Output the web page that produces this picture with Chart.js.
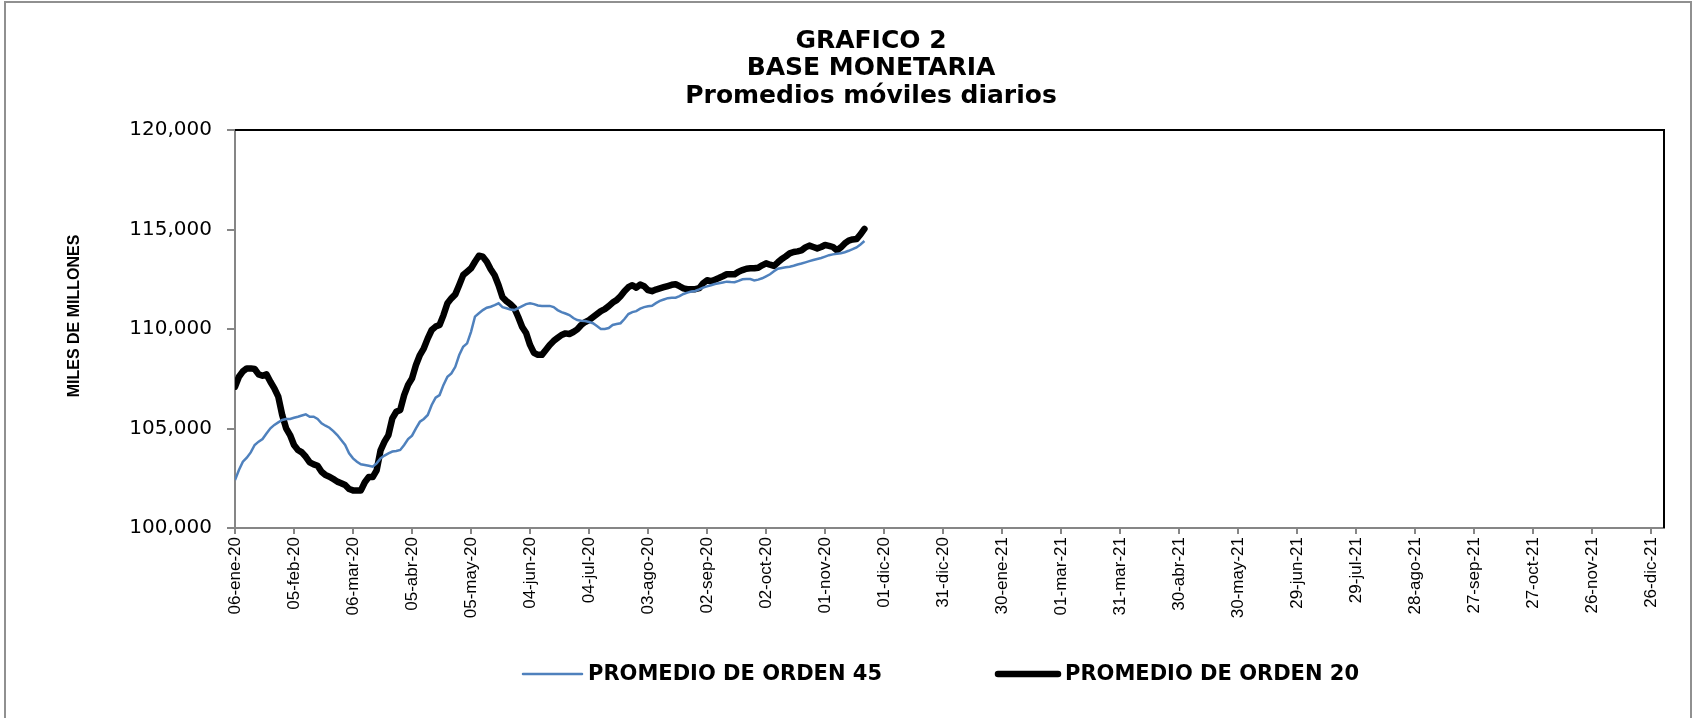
<!DOCTYPE html>
<html>
<head>
<meta charset="utf-8">
<title>Base monetaria</title>
<script src="https://cdn.jsdelivr.net/npm/chart.js@4.4.0/dist/chart.umd.min.js"></script>
<style>
  html, body { margin: 0; padding: 0; background: #fff; }
</style>
</head>
<body>
<canvas id="grafico" width="1699" height="718"></canvas>
<script>
// dias contados desde el 06-ene-20
const dias = [0, 2, 4, 6, 8, 10, 12, 14, 16, 18, 20, 22, 24, 26, 28, 30, 32, 34, 36, 38,
  40, 42, 44, 46, 48, 50, 52, 54, 56, 58, 60, 62, 64, 66, 68, 70, 72, 74, 76, 78,
  80, 82, 84, 86, 88, 90, 92, 94, 96, 98, 100, 102, 104, 106, 108, 110, 112, 114, 116, 118,
  120, 122, 124, 126, 128, 130, 132, 134, 136, 138, 140, 142, 144, 146, 148, 150, 152, 154, 156, 158,
  160, 162, 164, 166, 168, 170, 172, 174, 176, 178, 180, 182, 184, 186, 188, 190, 192, 194, 196, 198,
  200, 202, 204, 206, 208, 210, 212, 214, 216, 218, 220, 222, 224, 226, 228, 230, 232, 234, 236, 238,
  240, 242, 244, 246, 248, 250, 252, 254, 256, 258, 260, 262, 264, 266, 268, 270, 272, 274, 276, 278,
  280, 282, 284, 286, 288, 290, 292, 294, 296, 298, 300, 302, 304, 306, 308, 310, 312, 314, 316, 318, 320];

const orden45 = [102410, 102910, 103330, 103530, 103800, 104170, 104340, 104470, 104750, 105010,
  105180, 105310, 105430, 105480, 105480, 105540, 105590, 105650, 105710, 105590,
  105590, 105480, 105260, 105140, 105040, 104870, 104670, 104420, 104170, 103750,
  103500, 103330, 103200, 103170, 103130, 103080, 103250, 103500, 103640, 103750,
  103840, 103870, 103920, 104170, 104470, 104640, 105010, 105340, 105480, 105680,
  106180, 106550, 106680, 107190, 107600, 107770, 108100, 108690, 109110, 109280,
  109860, 110620, 110790, 110950, 111070, 111120, 111200, 111290, 111100, 111040,
  110980, 110950, 111050, 111150, 111250, 111290, 111250, 111180, 111160, 111160,
  111160, 111100, 110950, 110850, 110780, 110700, 110550, 110450, 110420, 110400,
  110350, 110290, 110150, 110000, 110000, 110050, 110200, 110250, 110290, 110500,
  110750, 110850, 110900, 111020, 111100, 111140, 111170, 111300, 111410, 111480,
  111550, 111570, 111570, 111650, 111760, 111830, 111880, 111910, 111990, 112080,
  112140, 112200, 112260, 112300, 112340, 112380, 112360, 112350, 112420, 112500,
  112510, 112510, 112440, 112480, 112550, 112650, 112750, 112900, 113030, 113070,
  113100, 113130, 113180, 113240, 113290, 113350, 113410, 113470, 113520, 113570,
  113640, 113710, 113750, 113780, 113810, 113860, 113930, 114010, 114100, 114250, 114420];

const orden20 = [107100, 107600, 107870, 108020, 108020, 107990, 107720, 107650, 107720, 107350,
  107020, 106600, 105680, 105010, 104670, 104170, 103920, 103800, 103580, 103300,
  103200, 103130, 102830, 102660, 102580, 102460, 102330, 102250, 102160, 101960,
  101890, 101890, 101890, 102300, 102560, 102560, 102900, 103900, 104340, 104670,
  105510, 105840, 105930, 106680, 107190, 107520, 108190, 108690, 109030, 109530,
  109950, 110120, 110200, 110700, 111290, 111540, 111740, 112210, 112710, 112880,
  113050, 113380, 113680, 113630, 113380, 113000, 112700, 112200, 111600, 111400,
  111250, 111050, 110600, 110100, 109800, 109200, 108800, 108700, 108700, 108950,
  109200, 109400, 109550, 109700, 109780, 109750, 109850, 109980, 110200, 110350,
  110450, 110600, 110750, 110900, 111000, 111150, 111330, 111450, 111650, 111900,
  112100, 112200, 112080, 112230, 112150, 111950, 111900, 111980, 112040, 112100,
  112160, 112220, 112250, 112150, 112040, 112000, 112000, 112000, 112050, 112300,
  112450, 112400, 112480, 112560, 112650, 112750, 112750, 112750, 112880, 112960,
  113030, 113050, 113050, 113080, 113200, 113300, 113230, 113170, 113350, 113520,
  113650, 113800, 113870, 113900, 113950, 114100, 114190, 114120, 114050, 114120,
  114220, 114180, 114120, 113950, 114100, 114300, 114440, 114500, 114520, 114750, 115030];

const etiquetasX = ["06-ene-20", "05-feb-20", "06-mar-20", "05-abr-20", "05-may-20", "04-jun-20",
  "04-jul-20", "03-ago-20", "02-sep-20", "02-oct-20", "01-nov-20", "01-dic-20", "31-dic-20",
  "30-ene-21", "01-mar-21", "31-mar-21", "30-abr-21", "30-may-21", "29-jun-21", "29-jul-21",
  "28-ago-21", "27-sep-21", "27-oct-21", "26-nov-21", "26-dic-21"];

const titulo = ["GRAFICO 2", "BASE MONETARIA", "Promedios móviles diarios"];
const tituloEjeY = "MILES DE MILLONES";
const nombres = ["PROMEDIO DE ORDEN 45", "PROMEDIO DE ORDEN 20"];

const gris = "#868686";

// titulo, leyenda, rotulo del eje y marcos dibujados a mano
const decorado = {
  id: "decorado",
  beforeDraw(chart) {
    const ctx = chart.ctx;
    ctx.save();
    ctx.fillStyle = "#fff";
    ctx.fillRect(0, 0, chart.width, chart.height);
    ctx.strokeStyle = "#909090";
    ctx.lineWidth = 2;
    ctx.beginPath();
    ctx.moveTo(5, chart.height);
    ctx.lineTo(5, 2);
    ctx.lineTo(1691, 2);
    ctx.lineTo(1691, chart.height);
    ctx.stroke();
    ctx.restore();
  },
  afterDraw(chart) {
    const ctx = chart.ctx;
    const a = chart.chartArea;
    ctx.save();
    // borde superior y derecho del area
    ctx.strokeStyle = "#000";
    ctx.lineWidth = 2;
    ctx.beginPath();
    ctx.moveTo(a.left, a.top);
    ctx.lineTo(a.right, a.top);
    ctx.lineTo(a.right, a.bottom);
    ctx.stroke();

    ctx.fillStyle = "#000";
    ctx.textAlign = "center";
    ctx.textBaseline = "middle";
    ctx.font = "bold 25px 'DejaVu Sans'";
    titulo.forEach((t, i) => ctx.fillText(t, 871, 41 + i * 27.5));

    // rotulo vertical
    ctx.save();
    ctx.translate(75, 316);
    ctx.rotate(-Math.PI / 2);
    ctx.font = "bold 16px 'Liberation Sans'";
    ctx.fillText(tituloEjeY, 0, 0);
    ctx.restore();

    // leyenda
    const items = [
      { x1: 523, x2: 582, tx: 588 },
      { x1: 998, x2: 1058, tx: 1065 }
    ];
    ctx.textAlign = "left";
    ctx.font = "bold 21px 'DejaVu Sans'";
    items.forEach((it, i) => {
      const ds = chart.data.datasets[i];
      ctx.strokeStyle = ds.borderColor;
      ctx.lineWidth = ds.borderWidth;
      ctx.lineCap = "round";
      ctx.beginPath();
      ctx.moveTo(it.x1, 674);
      ctx.lineTo(it.x2, 674);
      ctx.stroke();
      ctx.fillText(nombres[i], it.tx, 675);
    });
    ctx.restore();
  }
};

new Chart(document.getElementById("grafico"), {
  type: "line",
  data: {
    datasets: [
      {
        label: nombres[0],
        data: dias.map((d, i) => ({ x: d, y: orden45[i] })),
        borderColor: "#4f81bd",
        borderWidth: 2.5,
        pointRadius: 0,
        tension: 0
      },
      {
        label: nombres[1],
        data: dias.map((d, i) => ({ x: d, y: orden20[i] })),
        borderColor: "#000",
        borderWidth: 6.5,
        borderJoinStyle: "round",
        borderCapStyle: "round",
        pointRadius: 0,
        tension: 0
      }
    ]
  },
  options: {
    responsive: false,
    animation: false,
    devicePixelRatio: 1,
    layout: { padding: { top: 130, right: 35, bottom: 0, left: 0 } },
    plugins: {
      legend: { display: false },
      title: { display: false },
      tooltip: { enabled: false }
    },
    scales: {
      x: {
        type: "linear",
        min: 0,
        max: 726.5,
        border: { color: gris, width: 2 },
        grid: { drawOnChartArea: false, tickLength: 6, color: gris, lineWidth: 2 },
        ticks: {
          stepSize: 30,
          includeBounds: false,
          autoSkip: false,
          minRotation: 90,
          maxRotation: 90,
          padding: 3,
          color: "#000",
          font: { family: "Liberation Sans", size: 17 },
          callback: v => etiquetasX[Math.round(v / 30)]
        },
        afterFit: s => { s.height = 190; }
      },
      y: {
        min: 100000,
        max: 120000,
        border: { color: gris, width: 2 },
        grid: { drawOnChartArea: false, tickLength: 8, color: gris, lineWidth: 2 },
        ticks: {
          stepSize: 5000,
          padding: 15,
          color: "#000",
          font: { family: "DejaVu Sans", size: 20 },
          callback: v => v.toLocaleString("en-US")
        },
        afterFit: s => { s.width = 235; }
      }
    }
  },
  plugins: [decorado]
});
</script>
</body>
</html>
